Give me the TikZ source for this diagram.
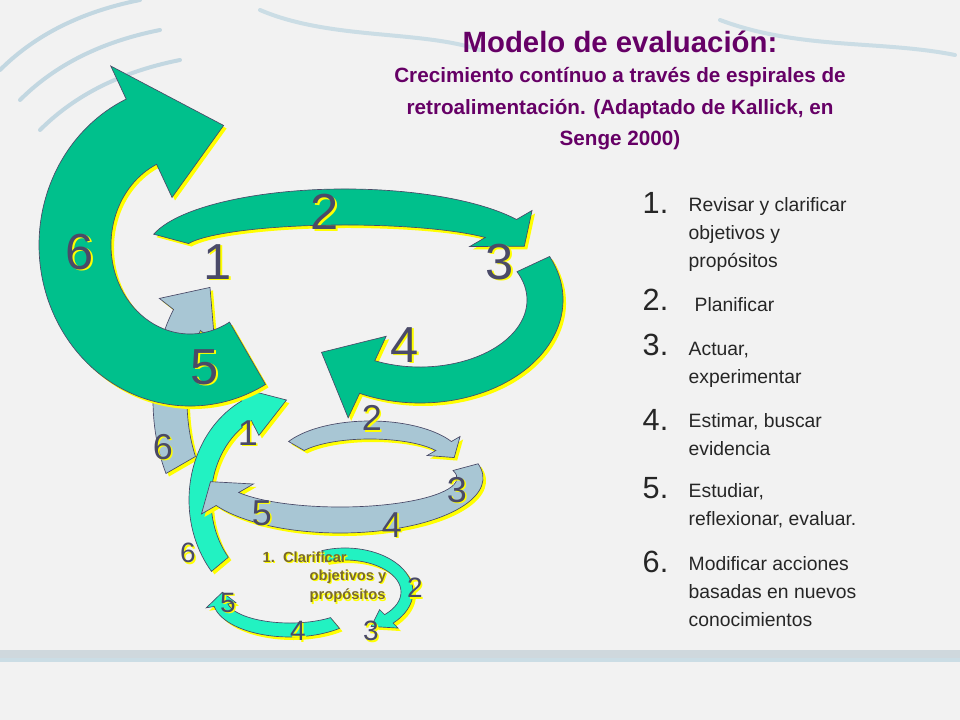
\documentclass[tikz,border=0pt]{standalone}
\usepackage{fontspec}
\setmainfont{Liberation Sans}
\definecolor{bg}{HTML}{F2F2F2}
\definecolor{grn}{HTML}{00C08C}
\definecolor{gry}{HTML}{A8C6D4}
\definecolor{aqu}{HTML}{22F2C2}
\definecolor{purp}{HTML}{660066}
\definecolor{numc}{HTML}{4A4A68}
\definecolor{olive}{HTML}{7A6A2A}
\definecolor{yel}{HTML}{FFFF00}
\newcommand\arrshape[9]{%
 ({#1+(#3+#7/2)*cos(#5)},{#2+(#4+#7/2)*sin(#5)}) arc[start angle=#5,end angle=#6,x radius={#3+#7/2},y radius={#4+#7/2}]
 -- ({#1+(#3+#8/2)*cos(#6)},{#2+(#4+#8/2)*sin(#6)})
 -- ({#1+#3*cos(#6+#9)},{#2+#4*sin(#6+#9)})
 -- ({#1+(#3-#8/2)*cos(#6)},{#2+(#4-#8/2)*sin(#6)})
 -- ({#1+(#3-#7/2)*cos(#6)},{#2+(#4-#7/2)*sin(#6)})
 arc[start angle=#6,end angle=#5,x radius={#3-#7/2},y radius={#4-#7/2}] -- cycle}
\newcommand\carr[2]{%
 \fill[yel,shift={(3,3)}] \arrshape#2;
 \filldraw[fill=#1,draw=numc,line width=0.5pt] \arrshape#2;}
\tikzset{
 bignum/.style={text=numc,font=\fontsize{38}{38}\selectfont},
 midnum/.style={text=numc,font=\fontsize{27}{27}\selectfont},
 smlnum/.style={text=numc,font=\fontsize{21}{21}\selectfont},
 shad/.style={text=yel},
 lnum/.style={anchor=west,font=\fontsize{23}{23}\selectfont,text=black!85},
 ltxt/.style={anchor=north west,align=left,font=\fontsize{14.5}{21}\selectfont,text=black!85},
}
\newcommand\num[4]{\node[#1,shad] at ($(#2)+(1.5,1.5)$) {#4}; \node[#1] (#3) at (#2) {#4};}
\usetikzlibrary{calc}
\begin{document}
\begin{tikzpicture}[x=0.75pt,y=-0.75pt]
\fill[bg] (0,0) rectangle (960,720);
\useasboundingbox (0,0) rectangle (960,720);
% decorative strokes
\foreach \a/\b in {0/30,20/60,40/90}{\draw[gry!70,line width=3pt,line cap=round] (\a,\b+40) .. controls (\a+40,\b) and (\a+90,\b-20) .. (\a+140,\b-30);}
\draw[gry!60,line width=3pt,line cap=round] (260,10) .. controls (330,40) and (420,30) .. (480,50);
\draw[gry!60,line width=3pt,line cap=round] (720,20) .. controls (800,50) and (880,40) .. (955,55);
% bottom band
\fill[gry!80!black!40] (0,650) rectangle (960,658);
\fill[gry!60] (0,658) rectangle (960,662);
% arrows
\carr{gry}{{250}{400}{80}{130}{150}{218}{34}{70}{22}}
\carr{aqu}{{285}{500}{85}{100}{140}{243}{22}{55}{28}}
\carr{grn}{{190}{245}{115}{125}{60}{245}{72}{145}{42}}
\carr{grn}{{345}{250}{180}{43}{195}{330}{36}{72}{25}}
\carr{grn}{{420}{300}{125}{85}{-25}{115}{36}{90}{27}}
\carr{gry}{{370}{462}{85}{32}{210}{330}{18}{38}{22}}
\carr{gry}{{340}{478}{130}{42}{-15}{150}{26}{60}{25}}
\carr{aqu}{{345}{592}{62}{38}{250}{405}{12}{26}{20}}
\carr{aqu}{{290}{600}{70}{30}{50}{170}{14}{30}{25}}
% numbers
\num{bignum}{80,252}{n6}{6}
\num{bignum}{218,262}{n1}{1}
\num{bignum}{325,212}{n2}{2}
\num{bignum}{500,262}{n3}{3}
\num{bignum}{405,345}{n4}{4}
\num{bignum}{205,367}{n5}{5}
\num{midnum}{248,433}{m1}{1}
\num{midnum}{372,418}{m2}{2}
\num{midnum}{163,447}{m6}{6}
\num{midnum}{457,490}{m3}{3}
\num{midnum}{262,513}{m5}{5}
\num{midnum}{392,525}{m4}{4}
\num{smlnum}{188,553}{s6}{6}
\num{smlnum}{415,588}{s2}{2}
\num{smlnum}{228,603}{s5}{5}
\num{smlnum}{298,631}{s4}{4}
\num{smlnum}{371,631}{s3}{3}
\foreach \c/\o in {yel/1.2,olive/0}{
\node[anchor=west,text=\c,font=\bfseries\fontsize{11}{13}\selectfont] at (258+\o,557+\o) {1.\ \ Clarificar};
\node[anchor=west,text=\c,font=\bfseries\fontsize{11}{13}\selectfont] at (305+\o,577+\o) {objetivos y};
\node[anchor=west,text=\c,font=\bfseries\fontsize{11}{13}\selectfont] at (305+\o,596+\o) {propósitos};}
% title
\node[text=purp,font=\bfseries\fontsize{22}{22}\selectfont] (title) at (620,42) {Modelo de evaluación:};
\node[text=purp,font=\bfseries\fontsize{15.5}{23.5}\selectfont,align=center,anchor=north] (sub) at (620,63) {Crecimiento contínuo a través de espirales de\\retroalimentación. (Adaptado de Kallick, en\\Senge 2000)};
% list
\node[lnum] (l1) at (638,203) {1.}; \node[ltxt] (t1) at (684,193) {Revisar y clarificar\\objetivos y\\propósitos};
\node[lnum] (l2) at (638,300) {2.}; \node[ltxt] (t2) at (690,293) {Planificar};
\node[lnum] (l3) at (638,345) {3.}; \node[ltxt] (t3) at (684,337) {Actuar,\\experimentar};
\node[lnum] (l4) at (638,420) {4.}; \node[ltxt] (t4) at (684,409) {Estimar, buscar\\evidencia};
\node[lnum] (l5) at (638,488) {5.}; \node[ltxt] (t5) at (684,479) {Estudiar,\\reflexionar, evaluar.};
\node[lnum] (l6) at (638,562) {6.}; \node[ltxt] (t6) at (684,552) {Modificar acciones\\basadas en nuevos\\conocimientos};
\end{tikzpicture}
\end{document}
